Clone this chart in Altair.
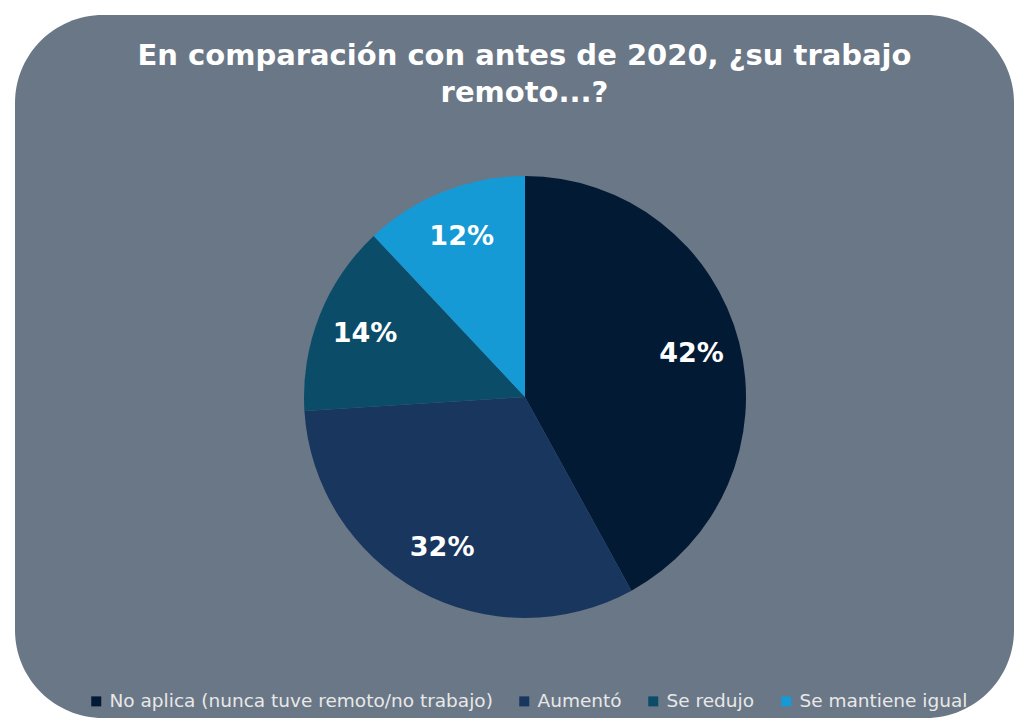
import altair as alt
import pandas as pd

categories = ["No aplica (nunca tuve remoto/no trabajo)", "Aumentó", "Se redujo", "Se mantiene igual"]
values = [42, 32, 14, 12]
labels = ["42%", "32%", "14%", "12%"]
colors = ["#021A33", "#18365E", "#0B4C68", "#159AD6"]
title_lines = ["En comparación con antes de 2020, ¿su trabajo", "remoto...?"]

df = pd.DataFrame({"cat": categories, "value": values, "label": labels, "idx": list(range(len(values)))})

W, H = 999, 703
CX, CY, R = 510, 382, 221

color = alt.Color(
    "cat:N",
    scale=alt.Scale(domain=categories, range=colors),
    sort=categories,
    legend=alt.Legend(
        title=None, orient="none", legendX=72, legendY=677, direction="horizontal",
        columns=4, symbolType="square", symbolSize=100, symbolStrokeWidth=0,
        labelColor="#E8E8E8", labelFont="DejaVu Sans", labelFontSize=18.5, labelLimit=0,
        columnPadding=22, symbolOffset=0, labelOffset=4, padding=0,
    ),
)

base = alt.Chart(df).encode(
    theta=alt.Theta("value:Q", stack=True),
    order=alt.Order("idx:Q"),
    x=alt.value(CX),
    y=alt.value(CY),
)

arcs = base.mark_arc(radius=R).encode(color=color)
text = base.mark_text(radius=172, font="DejaVu Sans", fontWeight="bold", fontSize=27, color="white").encode(
    text="label:N"
)

chart = (
    alt.layer(arcs, text)
    .properties(
        width=W, height=H,
        padding={"left": 7, "top": 7, "right": 0, "bottom": 0},
        autosize=alt.AutoSizeParams(type="none"),
        title=alt.Title(
            title_lines, anchor="middle", font="DejaVu Sans", fontWeight="bold", fontSize=29,
            color="white", baseline="top", dy=97, dx=10, lineHeight=37,
        ),
    )
    .configure_view(fill="#6A7786", strokeWidth=0, cornerRadius=88)
)

chart.save("out.html", embed_options={"renderer": "svg", "actions": False})
